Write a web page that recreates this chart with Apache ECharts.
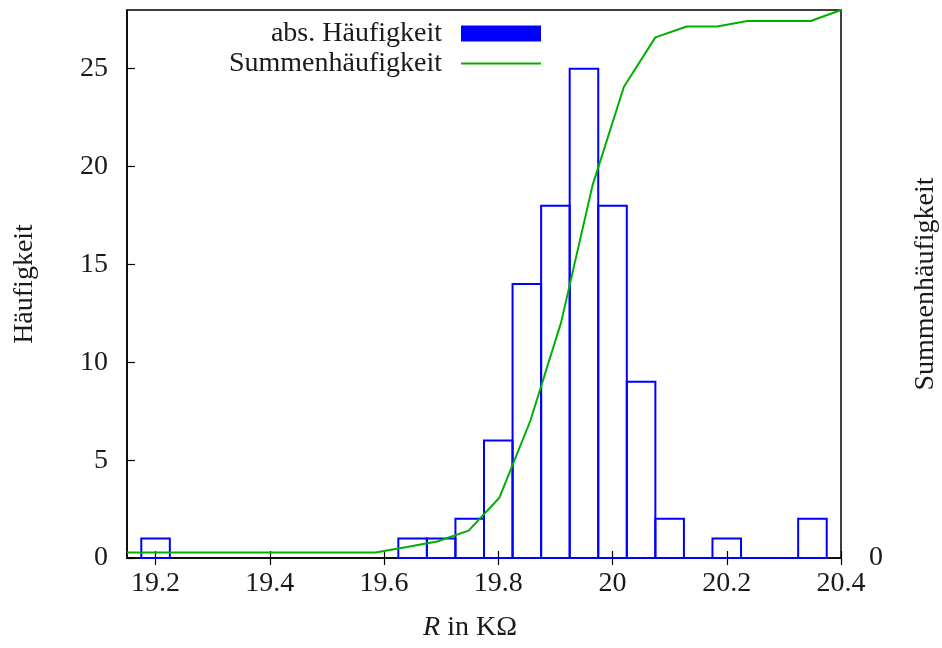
<!DOCTYPE html>
<html>
<head>
<meta charset="utf-8">
<script src="https://cdn.jsdelivr.net/npm/echarts@6/dist/echarts.min.js"></script>
<style>
html, body { margin: 0; padding: 0; background: #fff; }
#main { width: 942px; height: 648px; }
</style>
</head>
<body>
<div id="main"></div>
<script>
// Klassenmitten und absolute Häufigkeiten
const binMitte = [19.20, 19.65, 19.70, 19.75, 19.80, 19.85, 19.90, 19.95, 20.00, 20.05, 20.10, 20.15, 20.20, 20.25, 20.30, 20.35]
const anzahl = [1, 1, 1, 2, 6, 14, 18, 25, 18, 9, 2, 0, 1, 0, 0, 2]
const binBreite = 0.05

// Summenhäufigkeit, x-Positionen wie im Bild
const summeX = [19.15, 19.585, 19.64, 19.693, 19.748, 19.802, 19.856, 19.91, 19.965, 20.02, 20.075, 20.13, 20.183, 20.236, 20.29, 20.347, 20.40]
const summeY = [1, 1, 2, 3, 5, 11, 25, 43, 68, 86, 95, 97, 97, 98, 98, 98, 100]

// Achsenbeschriftungen
const xTicks = [19.2, 19.4, 19.6, 19.8, 20, 20.2, 20.4]
const yTicks = [0, 5, 10, 15, 20, 25]
const y2Ticks = [0]

const font = 'Liberation Serif'
const fs = 28
const txt = '#1a1a1a'

let histData = binMitte.map((m, i) => [m, anzahl[i]])
let summeData = summeX.map((x, i) => [x, summeY[i]])

let chart = echarts.init(document.getElementById('main'))

const option = {
    animation: false,
    textStyle: { fontFamily: font },
    grid: {
        left: 127, right: 101, top: 10, bottom: 90,
        show: true,
        borderColor: '#000',
        borderWidth: 1.5,
        containLabel: false,
        outerBoundsMode: 'none'
    },
    legend: {
        orient: 'vertical',
        right: 395,
        top: 14,
        align: 'right',
        itemWidth: 80,
        itemHeight: 16,
        itemGap: 1,
        selectedMode: false,
        textStyle: {
            fontFamily: font, fontSize: fs, color: txt,
            lineHeight: 29,
            padding: [0, 14, 0, 0]
        },
        data: [
            { name: 'abs. Häufigkeit', icon: 'rect' },
            { name: 'Summenhäufigkeit', itemStyle: { opacity: 0 } }
        ]
    },
    xAxis: [
        {
            type: 'value',
            min: 19.15,
            max: 20.4,
            name: '{i|R} in KΩ',
            nameLocation: 'middle',
            nameGap: 56,
            nameTextStyle: {
                fontFamily: font, fontSize: fs, color: txt,
                padding: [0, 28, 0, 0],
                rich: {
                    i: { fontFamily: font, fontSize: fs, fontStyle: 'italic', color: txt }
                }
            },
            axisLine: { show: true, lineStyle: { color: '#000', width: 1.5 } },
            axisTick: { show: true, inside: true, length: 7, customValues: xTicks, lineStyle: { color: '#000', width: 1.2 } },
            axisLabel: { customValues: xTicks, margin: 12, fontFamily: font, fontSize: fs, color: txt },
            splitLine: { show: false }
        },
        {
            // gespiegelte Ticks oben
            type: 'value',
            position: 'top',
            min: 19.15,
            max: 20.4,
            axisLine: { show: false },
            axisTick: { show: true, inside: true, length: 7, customValues: xTicks, lineStyle: { color: '#000', width: 1.2 } },
            axisLabel: { show: false },
            splitLine: { show: false }
        }
    ],
    yAxis: [
        {
            type: 'value',
            min: 0,
            max: 28,
            name: 'Häufigkeit',
            nameLocation: 'middle',
            nameGap: 88,
            nameRotate: 90,
            nameTextStyle: { fontFamily: font, fontSize: fs, color: txt },
            axisLine: { show: true, lineStyle: { color: '#000', width: 1.5 } },
            axisTick: { show: true, inside: true, length: 8, customValues: yTicks, lineStyle: { color: '#000', width: 1.2 } },
            axisLabel: { customValues: yTicks, margin: 19, fontFamily: font, fontSize: fs, color: txt },
            splitLine: { show: false }
        },
        {
            type: 'value',
            position: 'right',
            min: 0,
            max: 100,
            name: 'Summenhäufigkeit',
            nameLocation: 'middle',
            nameGap: 71,
            nameRotate: 90,
            nameTextStyle: { fontFamily: font, fontSize: fs, color: txt },
            axisLine: { show: false },
            axisTick: { show: false },
            axisLabel: { customValues: y2Ticks, margin: 28, fontFamily: font, fontSize: fs, color: txt },
            splitLine: { show: false }
        }
    ],
    series: [
        {
            name: 'abs. Häufigkeit',
            type: 'custom',
            xAxisIndex: 0,
            yAxisIndex: 0,
            itemStyle: { color: '#0000ff' },
            data: histData,
            renderItem: function (params, api) {
                let m = api.value(0)
                let n = api.value(1)
                let p1 = api.coord([m - binBreite / 2, n])
                let p2 = api.coord([m + binBreite / 2, 0])
                return {
                    type: 'rect',
                    shape: { x: p1[0], y: p1[1], width: p2[0] - p1[0], height: p2[1] - p1[1] },
                    style: { fill: 'none', stroke: '#0000ff', lineWidth: 2 }
                }
            },
            z: 2
        },
        {
            name: 'Summenhäufigkeit',
            type: 'line',
            xAxisIndex: 0,
            yAxisIndex: 1,
            symbol: 'none',
            showSymbol: false,
            lineStyle: { color: '#00b000', width: 2 },
            itemStyle: { color: '#00b000' },
            data: summeData,
            z: 3
        }
    ]
}

chart.setOption(option)
</script>
</body>
</html>
